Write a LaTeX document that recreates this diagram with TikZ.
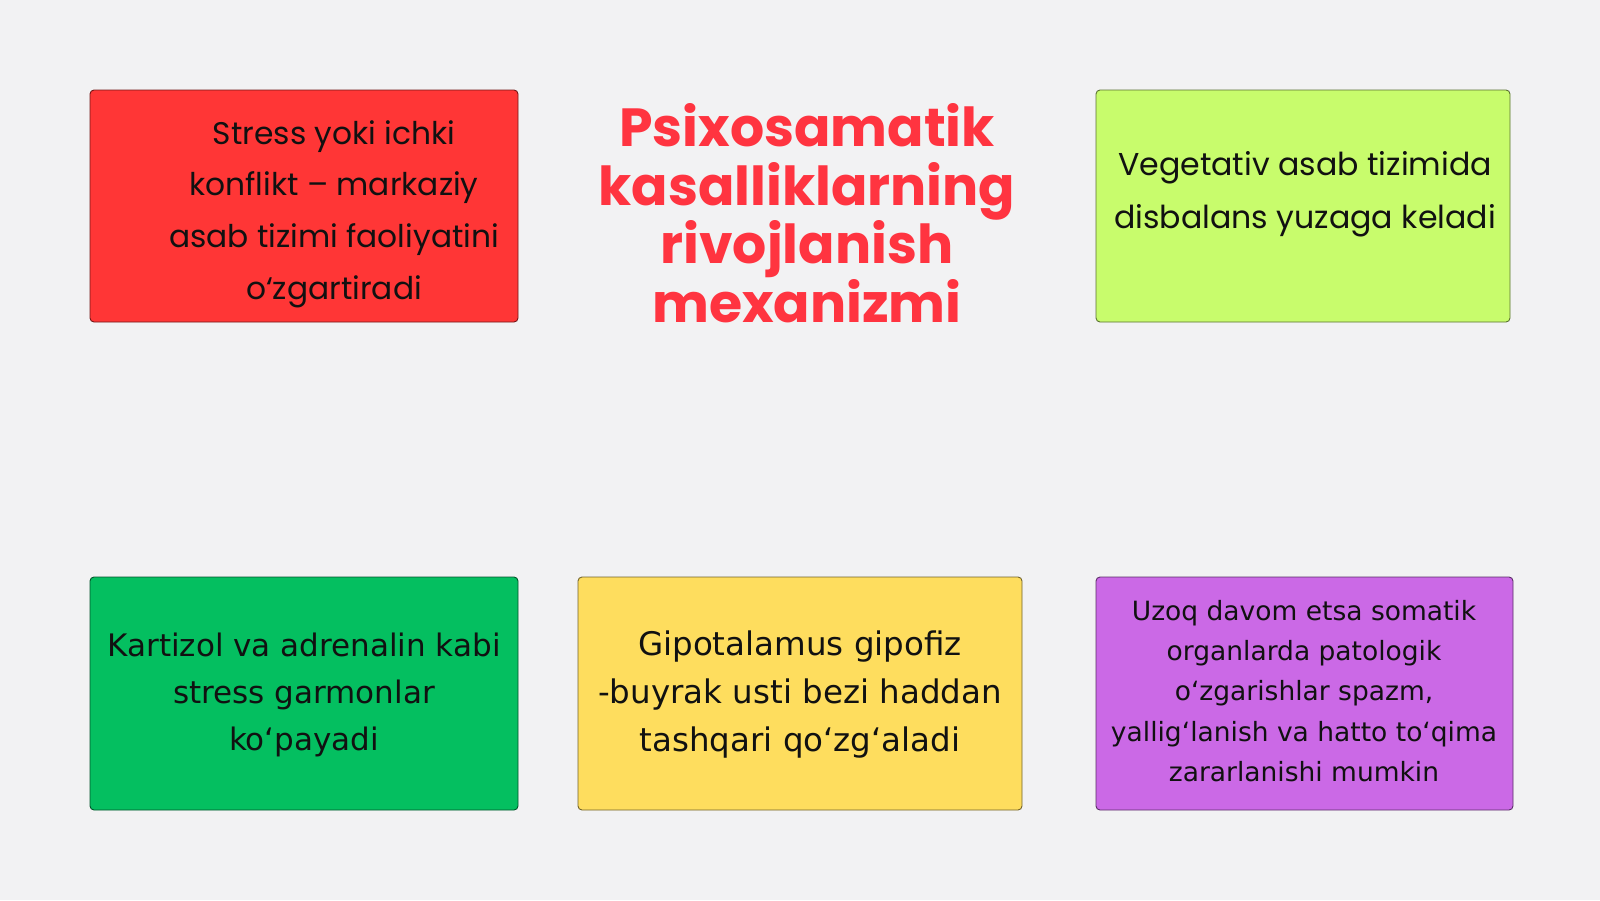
\documentclass[tikz,border=0pt]{standalone}
\usepackage{fontspec}
\setmainfont{DejaVu Sans}
\newfontfamily\geo{Poppins}
\newfontfamily\dvs{DejaVu Sans}
\definecolor{bgc}{HTML}{F2F2F3}
\definecolor{cred}{HTML}{FF3636}
\definecolor{clime}{HTML}{C8FC6C}
\definecolor{cgreen}{HTML}{04BF60}
\definecolor{cyellow}{HTML}{FEDD5E}
\definecolor{cpurple}{HTML}{CB69E6}
\definecolor{ctitle}{HTML}{FF3440}
\definecolor{ctext}{HTML}{111111}
\begin{document}
\begin{tikzpicture}[x=1pt,y=-1pt,
  box/.style={draw=#1!45!black, fill=#1, rounded corners=4pt, line width=0.9pt, inner sep=0pt},
  bodytxt/.style={align=center, text=ctext, inner sep=0pt}]
\useasboundingbox (0,0) rectangle (1600,900);
\fill[bgc] (0,0) rectangle (1600,900);
% boxes
\node[box=cred, minimum width=428pt, minimum height=232pt] (redbox) at (304,206) {};
\node[box=clime, minimum width=414pt, minimum height=232pt] (limebox) at (1303,206) {};
\node[box=cgreen, minimum width=428pt, minimum height=233pt] (greenbox) at (304,693.5) {};
\node[box=cyellow, minimum width=444pt, minimum height=233pt] (yellowbox) at (800,693.5) {};
\node[box=cpurple, minimum width=417pt, minimum height=233pt] (purplebox) at (1304.5,693.5) {};
% title
\node[align=center, text=ctitle, inner sep=0pt, font=\geo\bfseries\fontsize{53.7}{58.5}\selectfont] (title) at (807,213) {Psixosamatik\\kasalliklarning\\rivojlanish\\mexanizmi};
% texts
\node[bodytxt, font=\geo\fontsize{31.3}{51.7}\selectfont] (redtxt) at (334,214) {Stress yoki ichki\\konflikt – markaziy\\asab tizimi faoliyatini\\o‘zgartiradi};
\node[bodytxt, font=\geo\fontsize{31.6}{52.5}\selectfont] (limetxt) at (1305,194) {Vegetativ asab tizimida\\disbalans yuzaga keladi};
\node[bodytxt, font=\dvs\fontsize{31}{47}\selectfont] (greentxt) at (304,694.5) {Kartizol va adrenalin kabi\\stress garmonlar\\ko‘payadi};
\node[bodytxt, font=\dvs\fontsize{32.5}{48}\selectfont] (yellowtxt) at (800,694.5) {Gipotalamus gipofiz\\-buyrak usti bezi haddan\\tashqari qo‘zg‘aladi};
\node[bodytxt, font=\dvs\fontsize{26.5}{40.2}\selectfont] (purpletxt) at (1304,691) {Uzoq davom etsa somatik\\organlarda patologik\\o‘zgarishlar spazm,\\yallig‘lanish va hatto to‘qima\\zararlanishi mumkin};
\end{tikzpicture}
\end{document}
